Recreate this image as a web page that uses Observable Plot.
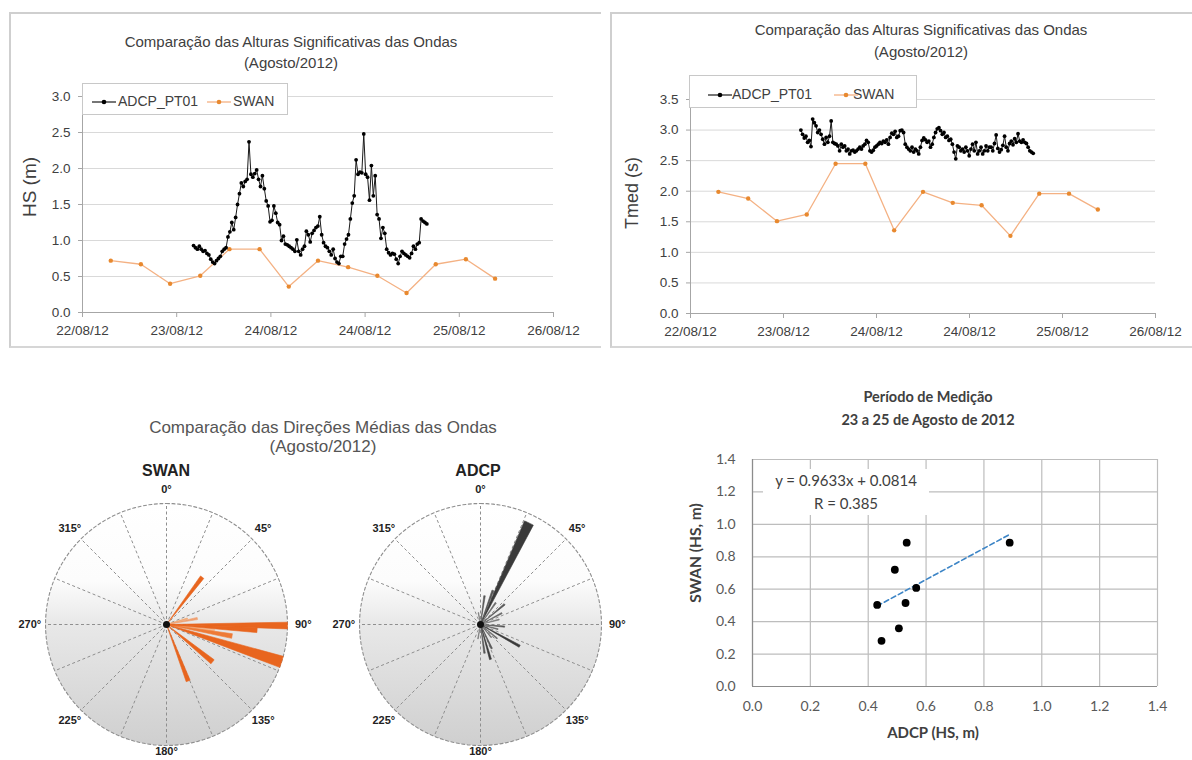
<!DOCTYPE html>
<html><head><meta charset="utf-8">
<script src="https://cdn.jsdelivr.net/npm/d3@7"></script>
<script src="https://cdn.jsdelivr.net/npm/@observablehq/plot@0.6"></script>
<style>
body{margin:0;background:#fff;}
#root{position:relative;width:1192px;height:760px;overflow:hidden;background:#fff;font-family:"Liberation Sans",Arial,sans-serif;}
.frame{position:absolute;border-top:2px solid #cfcfcf;border-left:2px solid #cfcfcf;border-bottom:2px solid #d6d6d6;box-sizing:border-box;}
.ttl{position:absolute;text-align:center;color:#404040;white-space:nowrap;}
.legend{position:absolute;background:#fff;border:1px solid #c8c8c8;box-sizing:border-box;}
.legend span{position:absolute;font-size:14px;color:#404040;line-height:16px;}
.legend svg{position:absolute;}
.ylab{position:absolute;transform:translate(-50%,-50%) rotate(-90deg);white-space:nowrap;color:#404040;}
</style></head>
<body><div id="root"></div>
<script>
// ---------- data ----------
const xTickPos = [0,1,2,3,4,5];
const xTickLabels = ["22/08/12","23/08/12","24/08/12","24/08/12","25/08/12","26/08/12"];
const hsTicks = [0,0.5,1,1.5,2,2.5,3];
const tmedTicks = [0,0.5,1,1.5,2,2.5,3,3.5];

const swanT = [0.30,0.62,0.93,1.25,1.56,1.88,2.19,2.50,2.82,3.13,3.44,3.75,4.07,4.38];
const swanHs = [0.72,0.67,0.40,0.51,0.88,0.88,0.36,0.72,0.63,0.51,0.27,0.67,0.74,0.47];
const swanTmed = [1.99,1.88,1.51,1.62,2.45,2.45,1.36,1.99,1.81,1.77,1.27,1.96,1.96,1.70];

const adcpHsStart = 1.179, adcpHsStep = 0.0203;
const adcpHs = [0.93,0.90,0.88,0.92,0.88,0.85,0.86,0.82,0.80,0.74,
0.70,0.68,0.72,0.75,0.78,0.85,0.88,0.90,1.05,1.12,
1.25,1.15,1.32,1.50,1.65,1.80,1.75,1.82,1.85,2.37,
1.92,1.88,1.93,1.98,1.85,1.75,1.90,1.72,1.55,1.48,
1.26,1.28,1.48,1.38,1.25,1.22,1.00,1.06,0.95,0.94,
0.92,0.90,0.88,0.85,1.01,0.85,0.80,0.88,0.92,1.13,
1.08,0.98,1.10,1.14,1.18,1.20,1.33,1.08,0.97,0.92,
0.90,0.85,0.80,0.88,0.75,0.70,0.68,0.78,0.78,0.95,
1.02,1.08,1.30,1.52,1.62,2.12,1.92,1.95,1.94,2.48,
1.92,1.88,1.56,2.04,1.62,1.90,1.36,1.30,1.03,1.18,
1.10,0.88,0.83,0.80,0.82,0.81,0.74,0.68,0.78,0.85,
0.82,0.80,0.78,0.76,0.82,0.92,0.88,0.95,0.97,1.30,
1.27,1.25,1.23];

const adcpTmedStart = 1.187, adcpTmedStep = 0.0181;
const adcpTmed = [3.00,2.93,2.87,2.90,2.80,2.83,2.73,3.18,3.12,3.07,
2.96,3.00,2.93,2.85,2.77,2.88,2.80,2.90,3.15,2.80,
2.78,2.77,2.74,2.66,2.77,2.72,2.74,2.66,2.69,2.61,
2.66,2.67,2.64,2.66,2.69,2.72,2.69,2.74,2.77,2.83,
2.80,2.66,2.64,2.67,2.72,2.74,2.77,2.80,2.78,2.82,
2.80,2.84,2.77,2.88,2.95,2.93,2.98,2.88,2.90,2.99,
3.00,2.96,2.77,2.72,2.69,2.66,2.72,2.64,2.69,2.66,
2.61,2.72,2.83,2.87,2.84,2.80,2.82,2.72,2.77,2.88,
2.96,3.02,3.04,2.99,2.93,2.96,2.88,2.90,2.83,2.85,
2.77,2.64,2.53,2.74,2.72,2.66,2.69,2.64,2.72,2.66,
2.58,2.69,2.77,2.66,2.80,2.61,2.66,2.72,2.61,2.66,
2.74,2.66,2.72,
2.72,2.66,2.78,2.92,2.70,2.64,2.68,2.75,2.90,2.72,
2.66,2.78,2.82,2.76,2.86,2.80,2.94,2.82,2.80,2.84,
2.80,2.78,2.72,2.66,2.64,2.62];

const roseLabelAngles = [0,45,90,135,180,225,270,315];
const roseLabels = ["0°","45°","90°","135°","180°","225°","270°","315°"];

const swanRoseDir  = [37, 74, 79, 97, 100, 90.5, 93.5, 108, 129, 159];
const swanRoseHalf = [2, 1.5, 2, 1, 2, 1.6, 1.6, 2.75, 2.5, 2];
const swanRoseLen  = [0.49, 0.18, 0.26, 0.40, 0.55, 1.0, 0.75, 1.0, 0.49, 0.50];
const swanRoseTone = ["#e8651e","#f4a56c","#f0a070","#f7b98c","#ee7a36","#e8651e","#e8651e","#e8651e","#e8651e","#e8651e"];

const adcpRoseDir  = [25.5, 119, 164, 8, 20, 35, 50, 62, 75, 95, 105, 140, 155, 172, 190, 350, 130];
const adcpRoseHalf = [2.5, 1.5, 1.5, 1.5, 1.5, 1.5, 1.5, 1.5, 1.5, 1.5, 1.5, 1.5, 1.5, 1.5, 1.5, 1.5, 1.5];
const adcpRoseLen  = [0.93, 0.37, 0.30, 0.24, 0.30, 0.22, 0.26, 0.20, 0.16, 0.20, 0.15, 0.14, 0.22, 0.24, 0.12, 0.10, 0.18];
const adcpRoseTone = ["#3a3a3a","#3a3a3a","#3a3a3a","#555","#555","#666","#555","#666","#777","#555","#666","#666","#555","#555","#777","#777","#666"];

const scTicks = [0,0.2,0.4,0.6,0.8,1.0,1.2,1.4];
const scAdcp = [0.431,0.446,0.492,0.506,0.529,0.533,0.566,0.889];
const scSwan = [0.503,0.282,0.720,0.359,0.515,0.887,0.608,0.887];
const trendSlope = 0.9633, trendIntercept = 0.0814;

// ---------- helpers ----------
const root = document.getElementById("root");
function place(el, left, top){ el.style.position="absolute"; el.style.left=left+"px"; el.style.top=top+"px"; root.appendChild(el); return el; }
function html(str){ const d=document.createElement("div"); d.innerHTML=str; return d.firstElementChild; }

const swanSeries = (vals)=>swanT.map((t,i)=>({t, v: vals[i]}));
const adcpSeries = (vals,start,step)=>vals.map((v,i)=>({t: start+i*step, v}));

function timePlot(opts){
  return Plot.plot({
    width: opts.width, height: 350,
    marginLeft: opts.ml, marginRight: opts.mr, marginTop: opts.mt, marginBottom: opts.mb,
    style: {fontFamily: '"Liberation Sans", Arial, sans-serif', fontSize: "13px", color: "#404040", background: "transparent", overflow: "visible"},
    x: {domain: [0,5]},
    y: {domain: opts.ydomain},
    marks: [
      Plot.gridY(opts.ticks, {stroke: "#d9d9d9", strokeOpacity: 1}),
      Plot.ruleX([0], {stroke: "#a6a6a6"}),
      Plot.ruleY([0], {stroke: "#a6a6a6"}),
      Plot.axisY({ticks: opts.ticks, tickFormat: d3.format(".1f"), tickSize: 4, tickPadding: 8, fontSize: 13.5, stroke: "#a6a6a6", fill: "#404040", label: null}),
      Plot.axisX({ticks: xTickPos, tickFormat: i => xTickLabels[i], tickSize: 5, tickPadding: 8, fontSize: 13.5, stroke: "#a6a6a6", fill: "#404040", label: null}),
      Plot.line(opts.swan, {x: "t", y: "v", stroke: "#f4b183", strokeWidth: 1.3}),
      Plot.dot(opts.swan, {x: "t", y: "v", r: 2.2, fill: "#e8892f", stroke: "none"}),
      Plot.line(opts.adcp, {x: "t", y: "v", stroke: "#1a1a1a", strokeWidth: 1}),
      Plot.dot(opts.adcp, {x: "t", y: "v", r: 1.9, fill: "#000", stroke: "none"})
    ]
  });
}

function legend(left, top, w, h, s1, t1, s2, t2, ty){
  const box = document.createElement("div"); box.className="legend";
  box.style.width=w+"px"; box.style.height=h+"px";
  box.innerHTML =
    `<svg style="left:${s1}px;top:${ty-3}px" width="24" height="8"><line x1="0" y1="4" x2="24" y2="4" stroke="#1a1a1a" stroke-width="1.2"/><circle cx="12" cy="4" r="2.3" fill="#000"/></svg>`+
    `<span style="left:${t1}px;top:${ty-8}px">ADCP_PT01</span>`+
    `<svg style="left:${s2}px;top:${ty-3}px" width="24" height="8"><line x1="0" y1="4" x2="24" y2="4" stroke="#f4b183" stroke-width="1.3"/><circle cx="12" cy="4" r="2.3" fill="#e8892f"/></svg>`+
    `<span style="left:${t2}px;top:${ty-8}px">SWAN</span>`;
  return place(box, left, top);
}

// ---------- frames ----------
const f1 = document.createElement("div"); f1.className="frame"; f1.style.width="592px"; f1.style.height="336px"; place(f1, 9, 12);
const f2 = document.createElement("div"); f2.className="frame"; f2.style.width="582px"; f2.style.height="336px"; place(f2, 610, 12);

// ---------- panel 1: HS ----------
const p1 = timePlot({width: 600, ml: 82, mr: 47, mt: 96, mb: 38, ydomain: [0,3], ticks: hsTicks,
  swan: swanSeries(swanHs), adcp: adcpSeries(adcpHs, adcpHsStart, adcpHsStep)});
place(p1, 0, 0);
place(html(`<div class="ttl" style="width:582px;font-size:15px;line-height:21px">Comparação das Alturas Significativas das Ondas<br>(Agosto/2012)</div>`), 0, 31);
place(html(`<div class="ylab" style="font-size:19px">HS (m)</div>`), 30, 187);
legend(82, 83, 206, 32, 9, 35, 124, 150, 17);

// ---------- panel 2: Tmed ----------
const p2 = timePlot({width: 592, ml: 90, mr: 37, mt: 99, mb: 37, ydomain: [0,3.5], ticks: tmedTicks,
  swan: swanSeries(swanTmed), adcp: adcpSeries(adcpTmed, adcpTmedStart, adcpTmedStep)});
place(p2, 600, 0);
place(html(`<div class="ttl" style="width:600px;font-size:15px;line-height:22px">Comparação das Alturas Significativas das Ondas<br>(Agosto/2012)</div>`), 621, 19);
place(html(`<div class="ylab" style="font-size:18px">Tmed (s)</div>`), 632, 193);
legend(689, 75, 228, 33, 18, 42, 144, 163, 18);

// ---------- roses ----------
function rose(dirs, halfs, lens, tones, gradId, cx){
  const R = 121, cy = 154, rad = a => a*Math.PI/180;
  const ring = d3.range(0, 361, 3).map(a => ({x: Math.sin(rad(a)), y: Math.cos(rad(a))}));
  const spokes = d3.range(0, 360, 22.5).map(a => ({x1: 0, y1: 0, x2: Math.sin(rad(a)), y2: Math.cos(rad(a))}));
  const wedges = dirs.flatMap((d, i) => {
    const pts = [{id: i, x: 0, y: 0, tone: tones[i]}];
    for (let k = 0; k <= 6; k++) {
      const a = rad(d - halfs[i] + k*halfs[i]/3);
      pts.push({id: i, x: lens[i]*Math.sin(a), y: lens[i]*Math.cos(a), tone: tones[i]});
    }
    pts.push({id: i, x: 0, y: 0, tone: tones[i]});
    return pts;
  });
  const labels = roseLabelAngles.map((a, i) => ({x: 1.13*Math.sin(rad(a)), y: Math.max(-1.05, 1.12*Math.cos(rad(a))), t: roseLabels[i]}));
  const svg = Plot.plot({
    width: 320, height: 290, margin: 0,
    style: {fontFamily: '"Liberation Sans", Arial, sans-serif', background: "transparent", overflow: "visible"},
    x: {domain: [-1,1], range: [cx-R, cx+R], axis: null},
    y: {domain: [-1,1], range: [cy+R, cy-R], axis: null},
    color: {type: "identity"},
    marks: [
      Plot.line(ring, {x: "x", y: "y", fill: `url(#${gradId})`, stroke: "none"}),
      Plot.link(spokes, {x1: "x1", y1: "y1", x2: "x2", y2: "y2", stroke: "#8f8f8f", strokeWidth: 1, strokeDasharray: "3,2.5"}),
      Plot.line(ring, {x: "x", y: "y", stroke: "#8f8f8f", strokeWidth: 1.1, strokeDasharray: "3,2.5"}),
      Plot.line(wedges, {x: "x", y: "y", z: "id", fill: "tone", stroke: "tone", strokeWidth: 0.6}),
      Plot.dot([{x: 0, y: 0}], {x: "x", y: "y", r: 3.5, fill: "#111", stroke: "none"}),
      Plot.text(labels, {x: "x", y: "y", text: "t", fontWeight: "bold", fontSize: 11, fill: "#222"})
    ]
  });
  const ns = "http://www.w3.org/2000/svg";
  const defs = document.createElementNS(ns, "defs");
  defs.innerHTML = `<linearGradient id="${gradId}" x1="0" y1="0" x2="0" y2="1"><stop offset="0" stop-color="#ffffff"/><stop offset="0.32" stop-color="#fcfcfc"/><stop offset="0.5" stop-color="#e8e8e8"/><stop offset="1" stop-color="#cfcfcf"/></linearGradient>`;
  svg.insertBefore(defs, svg.firstChild);
  return svg;
}
place(rose(swanRoseDir, swanRoseHalf, swanRoseLen, swanRoseTone, "gradSwan", 166), 0, 470);
place(rose(adcpRoseDir, adcpRoseHalf, adcpRoseLen, adcpRoseTone, "gradAdcp", 160), 320, 470);
place(html(`<div class="ttl" style="width:646px;font-size:17px;line-height:19px;color:#555">Comparação das Direções Médias das Ondas<br>(Agosto/2012)</div>`), 0, 418);
place(html(`<div class="ttl" style="width:200px;font-size:16px;font-weight:bold;color:#222">SWAN</div>`), 66, 462);
place(html(`<div class="ttl" style="width:200px;font-size:16px;font-weight:bold;color:#222">ADCP</div>`), 378, 462);

// ---------- scatter ----------
const scData = scAdcp.map((x, i) => ({x, y: scSwan[i]}));
const xMin = d3.min(scAdcp), xMax = d3.max(scAdcp);
const trend = [xMin, xMax].map(x => ({x, y: trendSlope*x + trendIntercept}));
const p4 = Plot.plot({
  width: 512, height: 320, marginLeft: 72, marginRight: 35, marginTop: 19, marginBottom: 74,
  style: {fontFamily: "Lato, 'Open Sans', sans-serif", fontSize: "14px", color: "#595959", background: "transparent", overflow: "visible"},
  x: {domain: [0,1.4]}, y: {domain: [0,1.4]},
  marks: [
    Plot.gridX(scTicks, {stroke: "#bdbdbd", strokeOpacity: 1, strokeWidth: 1.2}),
    Plot.gridY(scTicks, {stroke: "#bdbdbd", strokeOpacity: 1, strokeWidth: 1.2}),
    Plot.ruleX([0], {stroke: "#8c8c8c", strokeWidth: 1.2}),
    Plot.ruleY([0], {stroke: "#8c8c8c", strokeWidth: 1.2}),
    Plot.axisX({ticks: scTicks, tickFormat: d3.format(".1f"), tickSize: 0, tickPadding: 15, fontSize: 14, label: null}),
    Plot.axisY({ticks: scTicks, tickFormat: d3.format(".1f"), tickSize: 0, tickPadding: 17, fontSize: 14, label: null}),
    Plot.line(trend, {x: "x", y: "y", stroke: "#3d85c6", strokeWidth: 1.6, strokeDasharray: "5,3"}),
    Plot.dot(scData, {x: "x", y: "y", r: 3.9, fill: "#000", stroke: "none"})
  ]
});
place(p4, 680, 440);
place(html(`<div class="ttl" style="width:400px;font-family:Lato,sans-serif;font-weight:bold;font-size:14.5px;line-height:23px;color:#404040">Período de Medição<br>23 a 25 de Agosto de 2012</div>`), 728, 385);
place(html(`<div class="ttl" style="width:300px;font-family:Lato,sans-serif;font-weight:bold;font-size:15px;color:#404040">ADCP (HS, m)</div>`), 783, 723);
place(html(`<div class="ylab" style="font-family:Lato,sans-serif;font-weight:bold;font-size:15.5px;color:#404040">SWAN (HS, m)</div>`), 695, 553);
place(html(`<div class="ttl" style="width:166px;background:#fff;font-family:Lato,sans-serif;font-size:15px;line-height:23px;color:#404040">y = 0.9633x + 0.0814<br>R = 0.385</div>`), 763, 469);
</script>
</body></html>
